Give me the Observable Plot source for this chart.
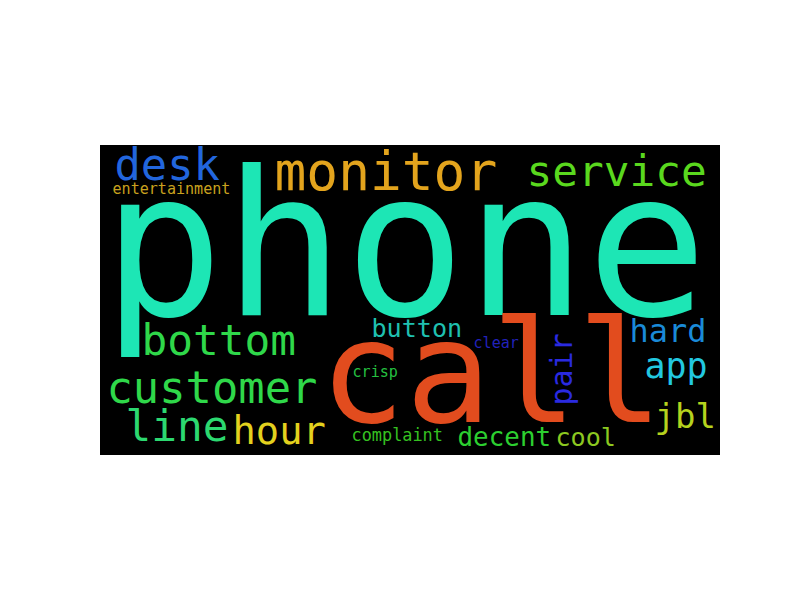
<!DOCTYPE html>
<html>
<head>
<meta charset="utf-8">
<script src="https://cdn.jsdelivr.net/npm/d3@7"></script>
<script src="https://cdn.jsdelivr.net/npm/@observablehq/plot@0.6"></script>
<style>
  html, body { margin: 0; padding: 0; background: #ffffff; }
  #cloud { position: absolute; left: 100px; top: 145px; width: 620px; height: 310px; }
</style>
</head>
<body>
<div id="cloud"></div>
<script>
// Word cloud: words, relative frequency (phone = 100)
const words = ["phone", "call", "monitor", "desk", "entertainment", "service",
  "bottom", "customer", "line", "hour", "button", "clear", "crisp", "complaint",
  "decent", "cool", "pair", "hard", "app", "jbl"];
const counts = [100, 71, 26.3, 21.8, 7.5, 21.3, 21.3, 21.8, 21.3, 19.3, 12.5, 7.5, 7.5, 8.4,
  12.9, 12.5, 14.9, 15.9, 17.4, 16.9];
const colors = ["#1de6b5", "#e24c1e", "#e3a41d", "#2266dd", "#c9a21e", "#5ad81e",
  "#2fd84a", "#2fd84a", "#2cd870", "#e3d11e", "#1fc0b0", "#2222bb", "#25c040", "#35c020",
  "#2ccf30", "#8cc820", "#2a2ae0", "#1a8ad8", "#22c8e0", "#b5d21e"];

// layout on the 620 x 310 canvas (baseline start of each word)
const layoutX = [2, 219, 174, 14, 12, 426, 41, 6, 25, 132, 271, 373, 252, 251, 357, 455, 471, 529, 544, 554];
const layoutY = [169, 276, 44, 34, 48, 40, 209, 257, 295, 298, 191, 202, 231, 295, 300, 300, 260, 196, 232, 282];
const rotation = [0, 0, 0, 0, 0, 0, 0, 0, 0, 0, 0, 0, 0, 0, 0, 0, -90, 0, 0, 0];

const table = words.map((w, i) => ({
  word: w, count: counts[i], color: colors[i],
  x: layoutX[i], y: layoutY[i], rotate: rotation[i]
}));

const W = 620, H = 310;
const size = d3.scaleLinear().domain([0, 100]).range([0, 201]);

const chart = Plot.plot({
  width: W,
  height: H,
  margin: 0,
  style: { background: "#000000", overflow: "hidden" },
  x: { domain: [0, W], range: [0, W], axis: null },
  y: { domain: [0, H], range: [0, H], axis: null },
  marks: [
    Plot.text(table, {
      x: "x",
      y: "y",
      text: "word",
      fill: "color",
      rotate: "rotate",
      fontSize: d => size(d.count),
      fontFamily: "DejaVu Sans Mono",
      textAnchor: "start",
      lineAnchor: "bottom"
    })
  ]
});
document.getElementById("cloud").appendChild(chart);
</script>
</body>
</html>
